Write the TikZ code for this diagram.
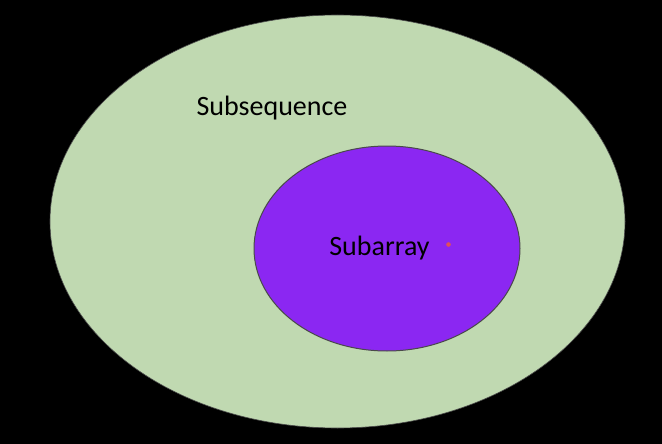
\documentclass[tikz,border=0pt]{standalone}
\usepackage{fontspec}
\setmainfont{Carlito}
\usepackage{tikz}
\definecolor{setgreen}{HTML}{C0D9B1}
\definecolor{setpurple}{HTML}{8B27F2}
\definecolor{rimgray}{HTML}{4A4A4A}
\definecolor{dotred}{HTML}{E0505A}

\begin{document}
\begin{tikzpicture}[x=1pt, y=-1pt,
		setlabel/.style={font=\fontsize{28}{33}\selectfont, text=black, inner sep=0pt}]
		%%%%% START %%%%%
		
		\fill[black] (0, 0) rectangle (662, 444);
		\useasboundingbox (0, 0) rectangle (662, 444);
		
		\draw[fill=setgreen, draw=rimgray, line width=0.6pt] (337.5, 221.5) ellipse (287.5 and 206.5);
		\node[setlabel] (subseq) at (272, 108.5) {Subsequence};
		
		\draw[fill=setpurple, draw=rimgray, line width=1pt] (387, 248.5) ellipse (133 and 102.5);
		\node[setlabel] (subarr) at (379.5, 248.5) {Subarray};
		
		\fill[dotred] (448.5, 244.5) circle (2.3);
		
		%%%%% END %%%%%
	\end{tikzpicture}
\end{document}
